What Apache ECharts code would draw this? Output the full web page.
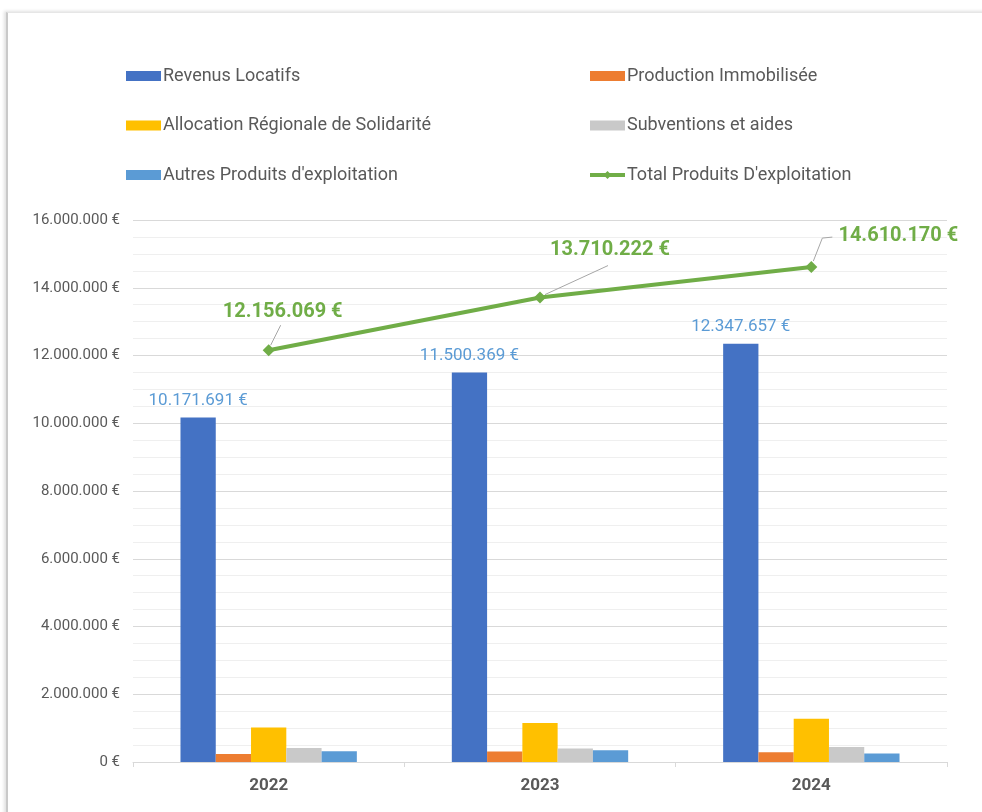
<!DOCTYPE html>
<html lang="fr">
<head>
    <meta charset="UTF-8">
    <title>Produits d'exploitation</title>
    <script src="https://cdn.jsdelivr.net/npm/echarts@6/dist/echarts.min.js"></script>
    <style>
        html, body { margin: 0; padding: 0; background: #fff; }
        #frame {
            position: absolute; left: 6px; top: 12px; width: 990px; height: 810px;
            border-top: 1px solid #e6e6e6; border-left: 2px solid #c9c9c9;
            box-shadow: -2px -1px 3px rgba(0,0,0,0.12);
        }
        #chart { position: absolute; left: 0; top: 0; width: 982px; height: 812px; }
    </style>
</head>
<body>
    <div id="frame"></div>
    <div id="chart"></div>
<script type="application/javascript">
    // données
    var years = ['2022', '2023', '2024'];
    var revenusLocatifs = [10171691, 11500369, 12347657];
    var productionImmo = [235000, 310000, 290000];
    var allocation = [1020000, 1150000, 1275000];
    var subventions = [410000, 400000, 445000];
    var autresProduits = [319000, 350000, 252000];
    var totalProduits = [12156069, 13710222, 14610170];
    var yTicks = [0, 2000000, 4000000, 6000000, 8000000, 10000000, 12000000, 14000000, 16000000];

    // décalage des étiquettes du total (dx, dy)
    var totalLabelOffsets = [[14, -17], [70, -27], [87, -10]];
    // traits de rappel, relatifs au point (px)
    var leaderOffsets = [
        [[2, -5], [12, -25]],
        [[5, -3], [68, -32]],
        [[2, -6], [11, -29], [21, -30]]
    ];

    function fmt(v) {
        return Math.round(v).toString().replace(/\B(?=(\d{3})+(?!\d))/g, '.') + ' €';
    }

    var chart = echarts.init(document.getElementById('chart'));
    var txt = '#595959';
    var font = 'Roboto, "Liberation Sans", sans-serif';

    function barSerie(name, data, color) {
        return {
            name: name,
            type: 'bar',
            data: data,
            itemStyle: { color: color },
            barGap: '0%',
            barCategoryGap: '35%'
        };
    }

    var legendCommon = {
        orient: 'vertical',
        top: 62,
        itemWidth: 35,
        itemHeight: 10,
        itemGap: 31.5,
        textStyle: { color: txt, fontSize: 18, fontFamily: font, padding: [0, 0, 0, -3] }
    };

    var option = {
        animation: false,
        textStyle: { fontFamily: font },
        legend: [
            Object.assign({}, legendCommon, {
                left: 121,
                icon: 'rect',
                data: ['Revenus Locatifs', 'Allocation Régionale de Solidarité', 'Autres Produits d\'exploitation']
            }),
            Object.assign({}, legendCommon, {
                left: 583,
                data: [
                    { name: 'Production Immobilisée', icon: 'rect' },
                    { name: 'Subventions et aides', icon: 'rect' },
                    { name: 'Total Produits D\'exploitation', lineStyle: { width: 4 } }
                ]
            })
        ],
        grid: { left: 133, right: 35, top: 220, bottom: 50 },
        xAxis: {
            type: 'category',
            data: years,
            axisLine: { lineStyle: { color: '#d9d9d9', width: 1 } },
            axisTick: { show: true, length: 5, lineStyle: { color: '#d9d9d9' } },
            axisLabel: { color: txt, fontSize: 17, fontWeight: 'bold', margin: 15, fontFamily: font }
        },
        yAxis: {
            type: 'value',
            min: yTicks[0],
            max: yTicks[yTicks.length - 1],
            interval: 2000000,
            axisLine: { show: false },
            axisTick: { show: false },
            axisLabel: { color: txt, fontSize: 15, margin: 13, fontFamily: font, formatter: fmt },
            splitLine: { lineStyle: { color: '#d9d9d9', width: 1 } },
            minorTick: { show: false, splitNumber: 4 },
            minorSplitLine: { show: true, lineStyle: { color: '#efefef', width: 1 } }
        },
        series: [
            Object.assign(barSerie('Revenus Locatifs', revenusLocatifs, '#4472C4'), {
                label: {
                    show: true, position: 'top', distance: 8,
                    color: '#5B9BD5', fontSize: 17, fontFamily: font,
                    formatter: function (p) { return fmt(p.value); }
                }
            }),
            barSerie('Production Immobilisée', productionImmo, '#ED7D31'),
            barSerie('Allocation Régionale de Solidarité', allocation, '#FFC000'),
            barSerie('Subventions et aides', subventions, '#C9C9C9'),
            barSerie('Autres Produits d\'exploitation', autresProduits, '#5B9BD5'),
            {
                name: 'Total Produits D\'exploitation',
                type: 'line',
                data: totalProduits,
                symbol: 'diamond',
                symbolSize: 12,
                lineStyle: { color: '#70AD47', width: 4 },
                itemStyle: { color: '#70AD47' },
                z: 5,
                label: {
                    show: true, position: 'top', distance: 5,
                    color: '#70AD47', fontSize: 20, fontWeight: 'bold', fontFamily: font,
                    formatter: function (p) { return fmt(p.value); }
                },
                labelLayout: function (params) {
                    var o = totalLabelOffsets[params.dataIndex];
                    return { dx: o[0], dy: o[1] };
                }
            }
        ]
    };

    chart.setOption(option);

    // traits de rappel des étiquettes du total
    var leaders = totalProduits.map(function (v, i) {
        var p = chart.convertToPixel({ seriesIndex: 5 }, [i, v]);
        return {
            type: 'polyline',
            z: 4,
            silent: true,
            shape: { points: leaderOffsets[i].map(function (d) { return [p[0] + d[0], p[1] + d[1]]; }) },
            style: { stroke: '#a6a6a6', lineWidth: 1, fill: null }
        };
    });
    chart.setOption({ graphic: leaders });
</script>
</body>
</html>
